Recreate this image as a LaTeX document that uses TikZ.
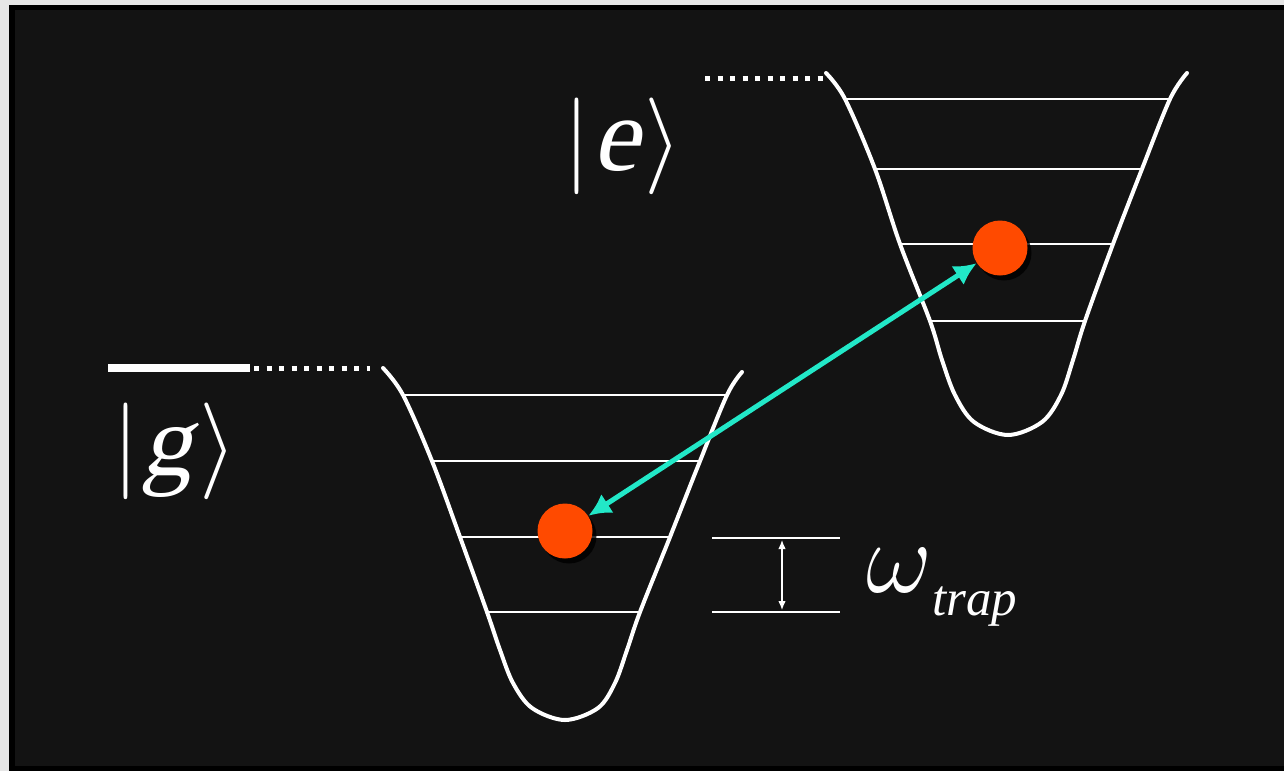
\RequirePackage{fix-cm}
\documentclass[tikz,border=0pt]{standalone}
\usepackage{fontspec}
\setmainfont{Liberation Serif}
\newfontfamily\slantfont{Liberation Serif}[FakeSlant=0.22]
\usetikzlibrary{arrows.meta,shadows}
\definecolor{panel}{HTML}{131313}
\definecolor{margin}{HTML}{E6E6E6}
\definecolor{atomred}{HTML}{FF4A00}
\definecolor{laser}{HTML}{22E8C8}

\begin{document}
\begin{tikzpicture}[x=0.2mm,y=-0.2mm,>=Latex]
  \tikzstyle{well}=[white,line width=0.8mm,line join=round,line cap=round]
  \tikzstyle{level}=[white,line width=0.35mm]
  \tikzstyle{dotline}=[white,line width=1mm,dash pattern=on 1mm off 1.5mm]
  \tikzstyle{atom}=[circle,fill=atomred,minimum size=11mm,inner sep=0pt,
    drop shadow={fill=black,opacity=0.8,shadow xshift=0.8mm,shadow yshift=-1mm}]
  \tikzstyle{ket}=[white,inner sep=0pt]
  \useasboundingbox (0,0) rectangle (1284,771);
  \fill[margin] (0,0) rectangle (1284,771);
  \fill[black] (9,5) rectangle (1284,771);
  \fill[panel] (15,10) rectangle (1284,766);

  % ground state well
  \draw[well] plot[smooth,tension=0.55] coordinates {(383,368) (403,395) (432,461) (460,537)
    (487,612) (500,650) (513,683) (532,708) (565,720) (598,708) (615,683) (627,650)
    (640,612) (670,537) (700,461) (727,395) (742,372)};
  \draw[level] (403,395) -- (727,395);
  \draw[level] (432,461) -- (700,461);
  \draw[level] (460,537) -- (670,537);
  \draw[level] (487,612) -- (640,612);

  % excited state well
  \draw[well] plot[smooth,tension=0.55] coordinates {(826,73) (845,99) (875,169) (900,244)
    (930,321) (942,360) (955,395) (974,422) (1008,435) (1042,422) (1061,395) (1073,360)
    (1085,321) (1113,244) (1142,169) (1170,99) (1187,73)};
  \draw[level] (845,99) -- (1170,99);
  \draw[level] (875,169) -- (1142,169);
  \draw[level] (900,244) -- (1113,244);
  \draw[level] (930,321) -- (1085,321);

  % energy offsets
  \draw[white,line width=1.6mm] (108,368) -- (250,368);
  \draw[dotline] (254,368) -- (370,368);
  \draw[dotline] (705,78) -- (824,78);

  \node[ket] (gket) at (175,451) {\fontsize{55}{55}\selectfont$\vert$\kern1pt\fontsize{58}{58}\selectfont{\slantfont g}\kern4pt\fontsize{55}{55}\selectfont$\rangle$};
  \node[ket] (eket) at (623,146) {\fontsize{55}{55}\selectfont$\vert$\kern1pt\fontsize{60}{60}\selectfont{\slantfont e}\kern3pt\fontsize{55}{55}\selectfont$\rangle$};

  % trap frequency
  \draw[level] (712,538) -- (840,538);
  \draw[level] (712,612) -- (840,612);
  \coordinate (gaptop) at (782,540);
  \coordinate (gapbot) at (782,610);
  \draw[white,line width=0.25mm,{Latex[length=1.8mm,width=1.5mm]}-{Latex[length=1.8mm,width=1.5mm]}] (gaptop) -- (gapbot);
  \node[ket,anchor=base west] (wtrap) at (866,592) {\fontsize{58}{58}\selectfont$\omega$\fontsize{29}{29}\selectfont\raisebox{-4.6mm}{\textit{trap}}};

  \node[atom] (gatom) at (565,531) {};
  \node[atom] (eatom) at (1000,248) {};
  \draw[laser,line width=1mm,{Latex[length=4.5mm,width=4.5mm]}-{Latex[length=4.5mm,width=4.5mm]}] (gatom) -- (eatom);
\end{tikzpicture}
\end{document}
